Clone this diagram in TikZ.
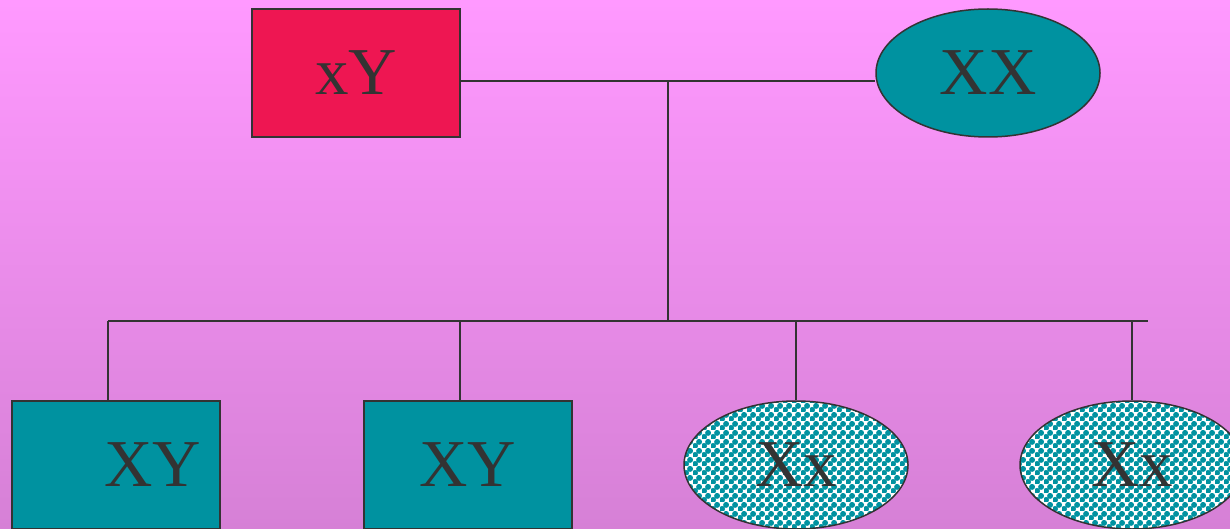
\documentclass[tikz,border=0pt]{standalone}
\usepackage{fontspec}
\setmainfont{Liberation Serif}
\usetikzlibrary{shapes.geometric,patterns}

\definecolor{bgtop}{RGB}{255,153,255}
\definecolor{bgbot}{RGB}{214,128,214}
\definecolor{tealfill}{RGB}{0,146,160}
\definecolor{redfill}{RGB}{238,22,82}
\definecolor{inkgray}{RGB}{51,51,51}

% teal dots on white, set as a checkerboard
\pgfdeclarepatternformonly{dotcheck}{\pgfpointorigin}{\pgfqpoint{9pt}{9pt}}{\pgfqpoint{9pt}{9pt}}{
  \pgfpathcircle{\pgfqpoint{2.25pt}{2.25pt}}{3.3pt}
  \pgfpathcircle{\pgfqpoint{6.75pt}{6.75pt}}{3.3pt}
  \pgfusepath{fill}}

\begin{document}
\begin{tikzpicture}[x=1pt,y=-1pt,
  sym/.style={draw=inkgray,line width=1.5pt,inner sep=0pt,text=inkgray,
    font=\fontsize{67}{70}\selectfont},
  box/.style={sym,rectangle,minimum width=208pt,minimum height=128pt},
  oval/.style={sym,ellipse,minimum width=224pt,minimum height=128pt},
  redbox/.style={box,fill=redfill},
  tealbox/.style={box,fill=tealfill},
  tealoval/.style={oval,fill=tealfill},
  dotoval/.style={oval,preaction={fill=white},pattern=dotcheck,pattern color=tealfill},
  link/.style={draw=inkgray,line width=1.5pt}]
\useasboundingbox (0,0) rectangle (1230,529);
\clip (0,0) rectangle (1230,529);
\fill[top color=bgtop,bottom color=bgbot] (0,0) rectangle (1230,529);

% parents
\node[redbox] (p1) at (356,73) {xY};
\node[tealoval] (p2) at (988,73) {XX};

% children
\node[tealbox] (c1) at (116,465) {\hspace*{74pt}XY};
\node[tealbox] (c2) at (468,465) {XY};
\node[dotoval] (c3) at (796,465) {Xx};
\node[dotoval] (c4) at (1132,465) {Xx};

% lines
\coordinate (j) at (668,81);
\coordinate (bar) at (668,321);
\coordinate (barend) at (1148,321);
\draw[link] (p1.east |- j) -- (p2.west |- j);
\draw[link] (j) -- (bar);
\draw[link] ([xshift=-8pt]c1.north |- bar) -- (barend);
\draw[link] ([xshift=-8pt]c1.north |- bar) -- ([xshift=-8pt]c1.north);
\draw[link] ([xshift=-8pt]c2.north |- bar) -- ([xshift=-8pt]c2.north);
\draw[link] (c3.north |- bar) -- (c3.north);
\draw[link] (c4.north |- bar) -- (c4.north);
\end{tikzpicture}
\end{document}
